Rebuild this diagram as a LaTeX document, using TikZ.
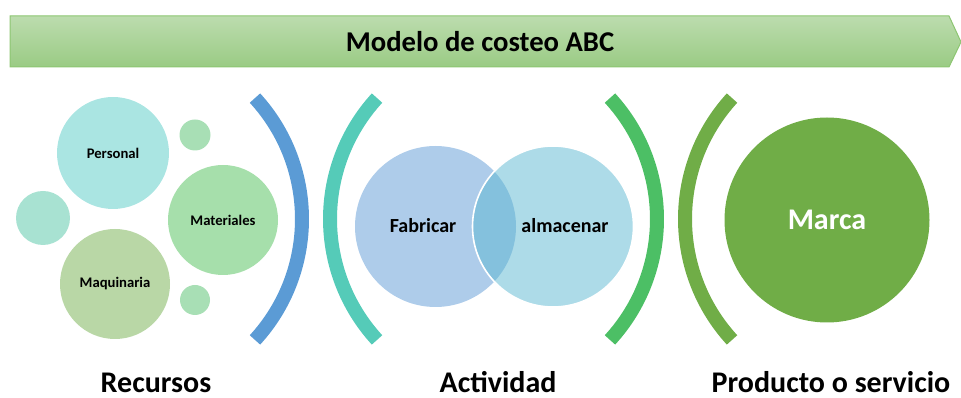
\documentclass[tikz,border=0pt]{standalone}
\usepackage{fontspec}
\setmainfont{Carlito}
\definecolor{bantop}{HTML}{BCDCAE}
\definecolor{banbot}{HTML}{9ACB84}
\definecolor{banline}{HTML}{8DC672}
\definecolor{cPers}{HTML}{AAE5E2}
\definecolor{cLeft}{HTML}{A8E2D2}
\definecolor{cSmall}{HTML}{A8DFB5}
\definecolor{cMat}{HTML}{A6DFAB}
\definecolor{cMaq}{HTML}{B9D7A6}
\definecolor{cBlue}{HTML}{5B9BD5}
\definecolor{cTeal}{HTML}{55CBB8}
\definecolor{cGreen}{HTML}{4CBF65}
\definecolor{cOlive}{HTML}{70AD47}
\definecolor{cFab}{HTML}{AECCEA}
\definecolor{cAlm}{HTML}{ADDBE8}
\definecolor{cOver}{HTML}{84C1DD}
\tikzset{
  bub/.style={circle, inner sep=0pt, draw=none, font=\bfseries\fontsize{11}{13}\selectfont},
  bracket/.style={line width=14*0.75pt},
  lab/.style={font=\bfseries\fontsize{22.5}{26}\selectfont, text=black, inner sep=0pt, anchor=base},
  venntext/.style={font=\bfseries\fontsize{15}{18}\selectfont, text=black},
}
\begin{document}
\begin{tikzpicture}[x=0.75pt,y=-0.75pt]
\useasboundingbox (0,0) rectangle (961,398);
% banner
\path[draw=banline, line width=0.75pt, top color=bantop, bottom color=banbot]
  (10,16) -- (949,16) -- (961,42) -- (949,67) -- (10,67) -- cycle;
\node[font=\bfseries\fontsize{21.5}{25}\selectfont] (title) at (480,42) {Modelo de costeo ABC};
% resources bubbles
\node[bub, fill=cPers, minimum size=112*0.75pt] (pers) at (113,153) {Personal};
\node[bub, fill=cSmall, minimum size=31*0.75pt] (s1) at (195,135) {};
\node[bub, fill=cLeft, minimum size=54*0.75pt] (s2) at (43,218) {};
\node[bub, fill=cMat, minimum size=110*0.75pt] (mat) at (223,220) {Materiales};
\node[bub, fill=cMaq, minimum size=110*0.75pt] (maq) at (115,284) {Maquinaria};
\node[bub, fill=cSmall, minimum size=30*0.75pt] (s3) at (195,300) {};
% brackets
\draw[bracket, cBlue] ([shift={(-42.5:179)}]123,219) arc (-42.5:42.5:179);
\draw[bracket, cTeal] ([shift={(137.5:179)}]509,219) arc (137.5:222.5:179);
\draw[bracket, cGreen] ([shift={(-42.5:179)}]478,219) arc (-42.5:42.5:179);
\draw[bracket, cOlive] ([shift={(137.5:179)}]864,219) arc (137.5:222.5:179);
% venn
\node[bub, fill=cFab, minimum size=161*0.75pt] (fab) at (435.5,226.5) {};
\node[bub, fill=cAlm, minimum size=161*0.75pt] (alm) at (553,226.5) {};
\begin{scope}
  \clip (435.5,226.5) circle (80.5);
  \fill[cOver] (553,226.5) circle (80.5);
\end{scope}
\draw[white, line width=1.2pt] (553,226.5) circle (80.5);
\node[venntext] (tfab) at (423,226) {Fabricar};
\node[venntext] (talm) at (565,226) {almacenar};
% product
\node[circle, inner sep=0pt, fill=cOlive, minimum size=205*0.75pt,
      font=\bfseries\fontsize{22.5}{26}\selectfont, text=white] (marca) at (827,220) {Marca};
% labels
\node[lab] (rec) at (156,393) {Recursos};
\node[lab] (act) at (498,393) {Actividad};
\node[lab] (prod) at (831,393) {Producto o servicio};
\end{tikzpicture}
\end{document}
